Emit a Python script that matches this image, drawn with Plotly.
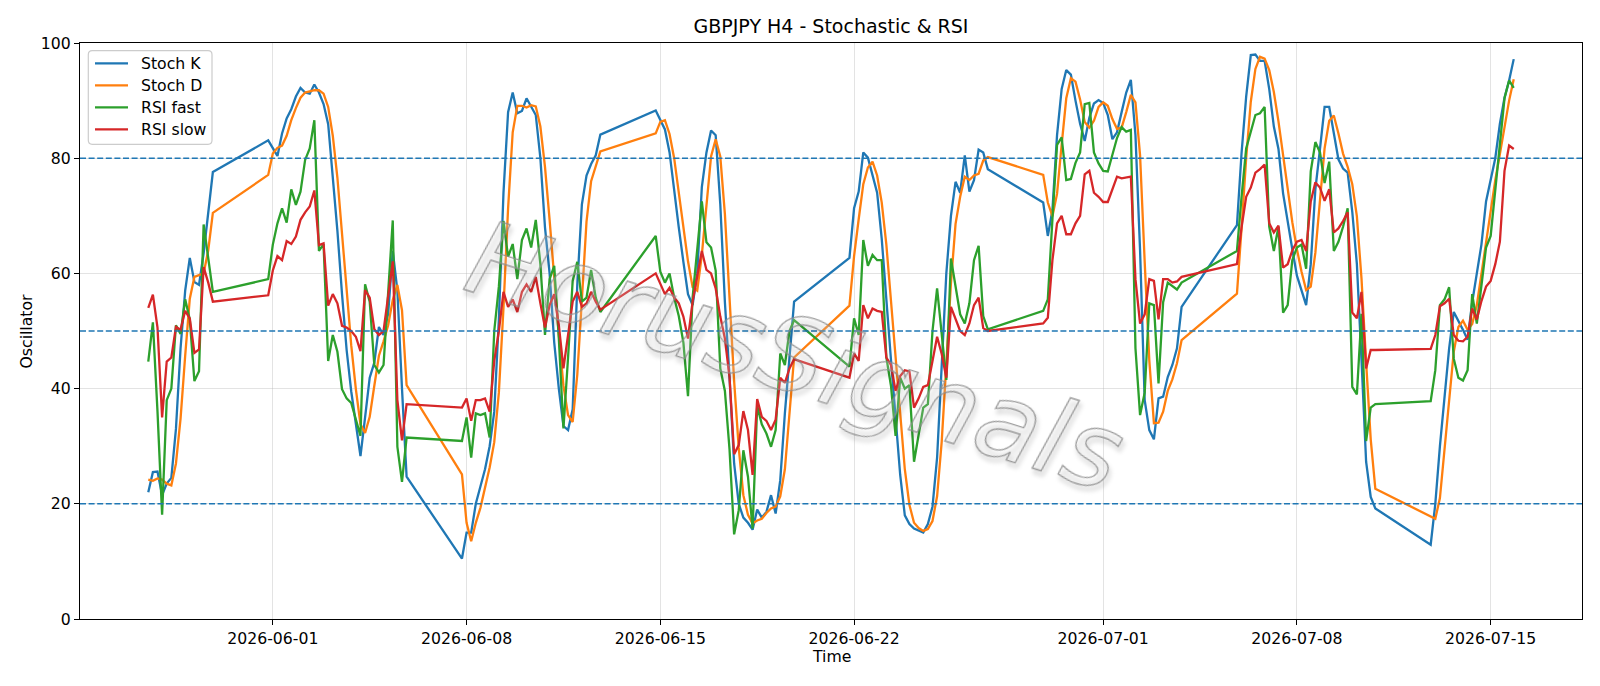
import pandas as pd
import plotly.graph_objects as go

# ---- time axis: H4 bars, trading weeks (start, number of bars) ----
block_starts = ["2026-05-27 12:00", "2026-05-31 20:00", "2026-06-07 20:00", "2026-06-14 20:00",
                "2026-06-21 20:00", "2026-06-28 20:00", "2026-07-05 20:00", "2026-07-12 20:00"]
block_sizes = [15, 31, 31, 31, 31, 31, 31, 19]

# ---- series values ----
stoch_k = [
    22.0, 25.5, 25.6, 21.5, 23.5, 24.5, 33.0, 47.0, 57.0, 62.7, 58.5, 58.0, 63.5, 70.5, 77.6,
    83.1, 81.8, 80.4, 84.3, 86.9, 88.5, 90.7, 92.2, 91.4, 91.2, 92.8, 91.4, 89.4, 85.9, 76.5, 67.4,
    56.4, 46.7, 39.5, 33.5, 28.3, 35.0, 41.9, 44.5, 50.7, 49.3, 53.0, 63.9, 57.0, 40.0, 24.7,
    10.5, 15.0, 15.0, 20.0, 23.0, 26.0, 30.0, 36.0, 52.0, 74.0, 88.0, 91.4, 87.8, 88.2, 90.4, 89.0,
    87.5, 80.0, 68.0, 60.0, 48.0, 40.0, 33.5, 32.8, 36.4, 58.0, 72.0, 77.0, 79.0, 80.5, 84.1,
    88.3, 86.5, 85.0, 81.0, 74.0, 68.0, 62.0, 56.4, 54.5, 60.0, 75.0, 81.0, 84.8, 84.0, 72.0, 55.0,
    42.0, 27.0, 20.0, 17.6, 16.7, 15.5, 19.0, 17.6, 18.6, 21.5, 18.3, 24.1, 35.7, 45.4, 55.1,
    62.7, 71.3, 74.2, 81.0, 80.1, 77.0, 74.0, 66.0, 55.0, 45.0, 35.0, 25.0, 18.0, 16.5, 15.7, 15.3,
    15.0, 16.5, 19.5, 28.0, 45.0, 60.0, 70.0, 75.9, 74.0, 80.5, 74.2, 76.2, 81.5, 81.0, 78.1,
    72.3, 66.5, 71.0, 84.0, 92.0, 95.3, 94.5, 90.0, 86.0, 83.0, 87.0, 89.5, 90.1, 89.6, 87.5, 83.3,
    84.5, 88.0, 91.4, 93.6, 84.0, 64.0, 38.0, 32.8, 31.2, 38.3, 38.6, 42.0, 44.1, 47.0, 54.2,
    68.4, 80.9, 90.7, 97.9, 98.0, 96.9, 96.9, 92.0, 85.5, 81.6, 73.9, 68.7, 64.2, 59.6, 57.1, 54.5,
    61.6, 74.6, 81.6, 88.9, 88.9, 84.3, 79.8, 78.2, 77.5, 70.7, 61.6, 45.0, 27.3, 21.2, 19.2,
    12.9, 20.0, 30.0, 39.0, 47.0, 53.3, 51.8, 50.2, 48.5, 55.0, 60.0, 65.0, 72.5, 76.0, 80.0, 86.0,
    90.5, 93.5, 97.2,
]

stoch_d = [
    24.2, 24.0, 24.4, 24.2, 23.5, 23.2, 27.0, 34.8, 45.7, 55.6, 59.4, 59.7, 60.0, 64.0, 70.5,
    77.1, 80.8, 81.8, 82.2, 83.9, 86.6, 88.7, 90.5, 91.4, 91.6, 91.8, 91.8, 91.2, 88.9, 83.9, 76.6,
    66.8, 56.8, 47.5, 39.9, 33.8, 32.3, 35.1, 40.5, 45.7, 48.2, 51.0, 55.4, 58.0, 53.6, 40.6,
    25.1, 16.7, 13.5, 16.7, 19.3, 23.0, 26.3, 30.7, 39.3, 54.0, 71.3, 84.5, 89.1, 89.1, 88.8, 89.2,
    89.0, 85.5, 78.5, 69.3, 58.7, 49.3, 40.5, 35.4, 34.2, 42.4, 55.5, 69.0, 76.0, 78.8, 81.2,
    84.3, 86.3, 86.6, 84.2, 80.0, 74.3, 68.0, 62.1, 57.6, 57.0, 63.2, 72.0, 80.3, 83.3, 80.3, 70.3,
    56.3, 41.3, 29.7, 21.5, 18.1, 16.6, 17.1, 17.4, 18.4, 19.2, 19.5, 21.3, 26.0, 35.1, 45.4,
    54.4, 63.0, 69.4, 75.5, 78.4, 79.4, 77.0, 72.3, 65.0, 55.3, 45.0, 35.0, 26.0, 19.8, 16.7, 15.8,
    15.3, 15.6, 17.0, 21.3, 30.8, 44.3, 58.3, 68.6, 73.3, 76.8, 76.2, 77.0, 77.3, 79.6, 80.2,
    77.1, 72.3, 69.9, 73.8, 82.3, 90.4, 93.9, 93.3, 90.2, 86.3, 85.3, 86.5, 88.9, 89.7, 89.1, 86.8,
    85.1, 85.3, 88.0, 91.0, 89.7, 80.5, 62.0, 44.9, 34.0, 34.1, 36.0, 39.6, 41.6, 44.4, 48.4,
    56.5, 67.8, 80.0, 89.8, 95.5, 97.6, 97.3, 95.3, 91.5, 86.4, 80.3, 74.7, 68.9, 64.2, 60.3, 57.1,
    57.7, 63.6, 72.6, 81.7, 86.5, 87.4, 84.3, 80.8, 78.5, 75.5, 69.9, 59.1, 44.6, 31.2, 22.6,
    17.8, 17.4, 21.0, 29.7, 38.7, 46.4, 50.7, 51.8, 50.2, 51.2, 54.5, 60.0, 65.8, 71.2, 76.2, 80.7,
    85.5, 90.0, 93.7,
]

rsi_fast = [
    44.7, 51.5, 36.0, 18.1, 38.0, 40.0, 51.0, 49.5, 55.5, 52.0, 41.3, 43.0, 68.5, 62.3, 56.8,
    59.0, 65.0, 68.7, 71.3, 68.8, 74.6, 71.9, 74.2, 79.7, 81.7, 86.6, 63.9, 65.1, 44.8, 49.3, 46.4,
    39.9, 38.3, 37.5, 34.5, 31.8, 58.1, 55.1, 44.1, 42.8, 44.1, 57.0, 69.2, 29.9, 23.8, 31.5,
    30.9, 35.0, 28.0, 35.7, 35.4, 35.7, 31.5, 50.0, 57.7, 69.1, 62.9, 65.1, 59.0, 65.8, 67.8, 64.5,
    69.3, 61.6, 49.3, 59.0, 61.3, 48.7, 33.1, 45.4, 58.7, 62.0, 55.1, 55.8, 60.6, 55.8, 53.3,
    66.5, 60.3, 58.4, 60.0, 55.8, 52.6, 48.0, 38.7, 55.8, 64.0, 72.5, 65.4, 64.5, 60.5, 43.5, 39.6,
    29.5, 14.7, 18.9, 29.3, 24.7, 15.7, 37.0, 33.8, 32.2, 29.9, 32.8, 46.1, 44.1, 50.0, 51.9,
    43.8, 52.2, 49.3, 65.8, 61.3, 63.2, 62.3, 62.3, 45.4, 40.5, 31.8, 41.9, 40.0, 40.6, 27.3, 31.8,
    36.7, 37.3, 50.0, 57.4, 49.0, 41.5, 62.6, 57.7, 52.9, 51.3, 54.8, 62.3, 64.8, 52.6, 50.3,
    53.5, 55.5, 69.4, 82.3, 83.6, 76.2, 76.4, 79.2, 81.0, 89.4, 89.6, 81.0, 79.1, 77.8, 77.7, 80.5,
    83.5, 85.4, 84.6, 84.9, 47.0, 35.4, 39.3, 54.8, 54.5, 40.9, 55.0, 58.4, 57.8, 57.2, 58.4,
    63.9, 73.3, 81.7, 84.6, 87.5, 87.8, 88.9, 68.1, 63.9, 68.1, 53.2, 54.5, 62.3, 64.5, 65.0, 60.8,
    77.7, 82.8, 81.0, 75.7, 79.4, 63.9, 65.5, 68.1, 71.3, 40.3, 39.0, 53.0, 30.9, 36.7, 37.3,
    37.8, 43.2, 54.5, 55.5, 57.6, 45.2, 41.9, 41.4, 43.2, 56.4, 51.3, 57.5, 64.5, 66.5, 74.6, 82.0,
    90.4, 93.5, 92.2,
]

rsi_slow = [
    54.0, 56.3, 50.6, 35.0, 44.7, 45.4, 50.7, 50.2, 53.5, 52.2, 46.2, 46.8, 61.1, 58.4, 55.1,
    56.2, 60.5, 63.0, 62.3, 65.6, 65.1, 66.4, 69.3, 70.6, 71.6, 74.4, 64.9, 65.2, 54.4, 56.4, 54.8,
    50.9, 50.6, 50.0, 49.0, 46.5, 57.1, 55.8, 50.3, 49.3, 50.0, 56.0, 62.1, 38.0, 31.0, 37.3,
    36.7, 38.3, 34.4, 38.0, 38.0, 38.3, 36.0, 44.8, 50.0, 56.8, 54.2, 55.5, 53.3, 56.8, 58.1, 56.8,
    59.4, 54.8, 50.6, 54.5, 56.4, 51.0, 43.5, 49.3, 55.1, 56.8, 54.2, 54.8, 56.8, 55.1, 53.7,
    60.0, 58.1, 56.4, 57.5, 55.8, 54.8, 52.5, 48.7, 55.1, 59.5, 63.9, 60.6, 60.0, 57.4, 52.5, 48.7,
    42.0, 28.6, 30.2, 36.1, 32.8, 25.0, 38.2, 35.1, 34.4, 32.8, 34.6, 41.9, 41.0, 43.5, 45.1,
    41.9, 46.1, 44.8, 54.5, 52.2, 53.9, 53.5, 53.3, 45.4, 44.1, 39.6, 42.2, 43.2, 43.0, 36.7, 38.3,
    40.3, 40.6, 44.8, 49.0, 46.0, 41.9, 54.2, 52.2, 50.0, 49.3, 51.3, 54.5, 55.8, 50.5, 50.0,
    51.3, 52.3, 62.3, 68.7, 70.0, 66.8, 66.8, 68.7, 70.0, 77.2, 77.8, 74.0, 73.3, 72.4, 72.4, 74.5,
    76.8, 76.5, 76.6, 76.8, 59.0, 51.3, 52.9, 59.0, 58.7, 52.0, 59.0, 59.0, 58.4, 58.6, 59.4,
    61.6, 68.0, 73.3, 74.9, 77.5, 78.1, 78.9, 68.7, 67.1, 68.3, 61.0, 61.6, 64.0, 65.5, 65.8, 63.9,
    72.5, 75.8, 74.9, 72.6, 74.6, 67.1, 67.8, 69.1, 70.6, 53.2, 52.2, 56.8, 43.5, 46.7, 46.7,
    46.9, 49.3, 54.3, 54.8, 55.6, 49.3, 48.3, 48.2, 49.0, 53.9, 52.0, 55.2, 57.7, 58.7, 61.6, 65.5,
    77.8, 82.2, 81.6,
]

levels = [80, 50, 20]
x_tick_labels = ["2026-06-01", "2026-06-08", "2026-06-15", "2026-06-22",
                 "2026-07-01", "2026-07-08", "2026-07-15"]
y_ticks = [0, 20, 40, 60, 80, 100]
names = ["Stoch K", "Stoch D", "RSI fast", "RSI slow"]
colors = ["#1f77b4", "#ff7f0e", "#2ca02c", "#d62728"]
watermark = "HorusSignals"

# ---- build time index ----
times = []
for s, n in zip(block_starts, block_sizes):
    times.extend(pd.date_range(s, periods=n, freq="4h"))
times = pd.DatetimeIndex(times)

span = times[-1] - times[0]
x_range = [times[0] - span * 0.05, times[-1] + span * 0.05]

FONT = "DejaVu Sans"
W, H = 1600, 686
ML, MR, MT, MB = 80, 18, 43, 67
PW, PH = W - ML - MR, H - MT - MB


def px(x):  # figure pixel -> paper x
    return (x - ML) / PW


def py(y):  # figure pixel -> paper y
    return (H - MB - y) / PH


series = [stoch_k, stoch_d, rsi_fast, rsi_slow]

fig = go.Figure()
for nm, col, ys in zip(names, colors, series):
    fig.add_trace(go.Scatter(x=times, y=ys, mode="lines", name=nm, showlegend=False,
                             line=dict(color=col, width=2.3)))

for lv in levels:
    fig.add_shape(type="line", xref="paper", x0=0, x1=1, yref="y", y0=lv, y1=lv,
                  line=dict(color="#1f77b4", width=1.6, dash="6px,2.6px"), layer="above")

# ---- legend box drawn like matplotlib's (rounded frame, line samples, labels) ----
bx0, bx1, by0, by1, r = 88.3, 212.0, 50.7, 144.3, 4.0
rx, ry = r / PW, r / PH
X0, X1, YT, YB = px(bx0), px(bx1), py(by0), py(by1)
path = (f"M {X0 + rx},{YT} L {X1 - rx},{YT} Q {X1},{YT} {X1},{YT - ry} "
        f"L {X1},{YB + ry} Q {X1},{YB} {X1 - rx},{YB} L {X0 + rx},{YB} "
        f"Q {X0},{YB} {X0},{YB + ry} L {X0},{YT - ry} Q {X0},{YT} {X0 + rx},{YT} Z")
fig.add_shape(type="path", xref="paper", yref="paper", path=path,
              fillcolor="rgba(255,255,255,0.8)", line=dict(color="#cccccc", width=1.2),
              layer="above")
legend_rows = [63.3, 85.3, 107.3, 129.3]
annotations = []
for nm, col, ry_px in zip(names, colors, legend_rows):
    fig.add_shape(type="line", xref="paper", yref="paper", x0=px(95.0), x1=px(128.0),
                  y0=py(ry_px), y1=py(ry_px), line=dict(color=col, width=2.3), layer="above")
    annotations.append(dict(text=nm, xref="paper", yref="paper", x=px(139.0), y=py(ry_px + 0.5),
                            xanchor="left", yanchor="middle", showarrow=False,
                            font=dict(family=FONT, size=15.7, color="black")))

annotations += [
    dict(text="Time", xref="paper", yref="paper", x=0.5, y=py(656),
         xanchor="center", yanchor="middle", showarrow=False,
         font=dict(family=FONT, size=15.7, color="black")),
    dict(text="Oscillator", xref="paper", yref="paper", x=px(25.5), y=0.5,
         xanchor="center", yanchor="middle", textangle=-90, showarrow=False,
         font=dict(family=FONT, size=15.7, color="black")),
    dict(text=watermark, xref="paper", yref="paper", x=px(795), y=py(356),
         xanchor="center", yanchor="middle", textangle=17.5, showarrow=False,
         font=dict(family=FONT, size=104, color="rgba(200,200,200,0.35)", style="italic")),
]

axis_common = dict(showline=True, linecolor="black", linewidth=1.3, mirror=True,
                   ticks="outside", ticklen=5, tickwidth=1.3, tickcolor="black",
                   showgrid=True, gridcolor="rgba(176,176,176,0.35)", gridwidth=1,
                   zeroline=False, tickfont=dict(family=FONT, size=15.7, color="black"))

fig.update_layout(
    width=W, height=H,
    margin=dict(l=ML, r=MR, t=MT, b=MB),
    paper_bgcolor="white", plot_bgcolor="white",
    font=dict(family=FONT, color="black"),
    title=dict(text="GBPJPY H4 - Stochastic & RSI", x=(ML + PW / 2) / W, xanchor="center",
               y=1 - 26 / H, yanchor="middle", yref="container",
               font=dict(family=FONT, size=19, color="black")),
    xaxis=dict(range=x_range, tickvals=pd.to_datetime(x_tick_labels), ticktext=x_tick_labels,
               **axis_common),
    yaxis=dict(range=[0, 100], tickvals=y_ticks, **axis_common),
    showlegend=False,
    annotations=annotations,
)

# give the watermark text an outline and a soft drop shadow (as in the reference)
post_js = """
var gd = document.getElementById('{plot_id}');
function styleWatermark() {
  document.querySelectorAll('g.annotation text').forEach(function (t) {
    if (t.textContent === 'HorusSignals') {
      t.style.fill = 'rgba(250,250,250,0.55)';
      t.style.stroke = 'rgba(140,140,140,0.85)';
      t.style.strokeWidth = '1.3px';
      t.style.filter = 'drop-shadow(3px 4px 2px rgba(0,0,0,0.28))';
    }
  });
}
styleWatermark();
if (gd && gd.on) { gd.on('plotly_afterplot', styleWatermark); }
setTimeout(styleWatermark, 30);
"""

fig.write_html("out.html", post_script=post_js)
